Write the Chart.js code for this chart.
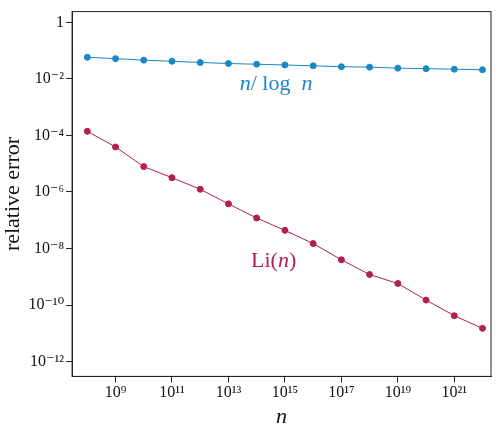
<!DOCTYPE html>
<html>
<head>
<meta charset="utf-8">
<script src="https://cdn.jsdelivr.net/npm/chart.js@4"></script>
<style>
  body { margin: 0; background: #fff; }
  #wrap { width: 500px; height: 430px; }
</style>
</head>
<body>
<div id="wrap"><canvas id="chart"></canvas></div>
<script>
// exponents k for n = 10^k
const exponents = [8, 9, 10, 11, 12, 13, 14, 15, 16, 17, 18, 19, 20, 21, 22];
const nLogNError = [0.058, 0.052, 0.046, 0.042, 0.038, 0.035, 0.033, 0.031, 0.029, 0.027, 0.026, 0.024, 0.023, 0.022, 0.021];
const liError = [1.4e-4, 3.9e-5, 7.9e-6, 3.2e-6, 1.25e-6, 3.8e-7, 1.2e-7, 4.4e-8, 1.5e-8, 4e-9, 1.2e-9, 5.8e-10, 1.5e-10, 4.2e-11, 1.5e-11];
const xTickExps = [9, 11, 13, 15, 17, 19, 21];
const yTickExps = [0, -2, -4, -6, -8, -10, -12];

const SUP = { '0': '⁰', '1': '¹', '2': '²', '3': '³', '4': '⁴', '5': '⁵', '6': '⁶', '7': '⁷', '8': '⁸', '9': '⁹', '-': '⁻' };
function pow10Label(k) {
  if (k === 0) return '1';
  return '10' + String(k).split('').map(c => SUP[c]).join('');
}

const BLUE = '#1a87c6';
const RED = '#b3204d';
const FONT = "'Liberation Serif', 'DejaVu Serif', serif";

const labelsPlugin = {
  id: 'seriesLabels',
  afterDatasetsDraw(chart) {
    const { ctx, scales } = chart;
    ctx.save();
    ctx.textBaseline = 'middle';
    ctx.textAlign = 'left';
    // n/ log n
    let x = scales.x.getPixelForValue(Math.pow(10, 13.4));
    let y = scales.y.getPixelForValue(Math.pow(10, -2.2));
    ctx.fillStyle = BLUE;
    ctx.font = 'italic 22px ' + FONT;
    ctx.fillText('n', x, y);
    x += ctx.measureText('n').width;
    ctx.font = '22px ' + FONT;
    ctx.fillText('/ log  ', x, y);
    x += ctx.measureText('/ log  ').width;
    ctx.font = 'italic 22px ' + FONT;
    ctx.fillText('n', x, y);
    // Li(n)
    x = scales.x.getPixelForValue(Math.pow(10, 13.8));
    y = scales.y.getPixelForValue(Math.pow(10, -8.45));
    ctx.fillStyle = RED;
    ctx.font = '22px ' + FONT;
    ctx.fillText('Li(', x, y);
    x += ctx.measureText('Li(').width;
    ctx.font = 'italic 22px ' + FONT;
    ctx.fillText('n', x, y);
    x += ctx.measureText('n').width;
    ctx.font = '22px ' + FONT;
    ctx.fillText(')', x, y);
    ctx.restore();
  }
};

new Chart(document.getElementById('chart'), {
  type: 'line',
  data: {
    datasets: [
      {
        label: 'n/log n',
        data: exponents.map((k, i) => ({ x: Math.pow(10, k), y: nLogNError[i] })),
        borderColor: BLUE, backgroundColor: BLUE, borderWidth: 1,
        pointRadius: 3, pointHoverRadius: 3
      },
      {
        label: 'Li(n)',
        data: exponents.map((k, i) => ({ x: Math.pow(10, k), y: liError[i] })),
        borderColor: RED, backgroundColor: RED, borderWidth: 1,
        pointRadius: 3, pointHoverRadius: 3
      }
    ]
  },
  options: {
    responsive: true,
    maintainAspectRatio: false,
    animation: false,
    layout: { padding: { top: 8, right: 9, left: 0, bottom: 0 } },
    plugins: { legend: { display: false }, tooltip: { enabled: false } },
    scales: {
      x: {
        type: 'logarithmic',
        min: Math.pow(10, 7.46), max: Math.pow(10, 22.3),
        afterBuildTicks: s => { s.ticks = xTickExps.map(k => ({ value: Math.pow(10, k) })); },
        ticks: {
          callback: v => pow10Label(Math.round(Math.log10(v))),
          color: '#111', font: { family: FONT, size: 16 }, maxRotation: 0, autoSkip: false, padding: 1
        },
        grid: { display: true, drawOnChartArea: false, drawTicks: true, tickLength: 6, color: '#222' },
        border: { color: '#222' },
        title: { display: true, text: 'n', color: '#111', font: { family: FONT, size: 22, style: 'italic' }, padding: { top: 0, bottom: 0 } }
      },
      y: {
        type: 'logarithmic',
        min: Math.pow(10, -12.47), max: Math.pow(10, 0.38),
        afterBuildTicks: s => { s.ticks = yTickExps.map(k => ({ value: Math.pow(10, k) })); },
        ticks: {
          callback: v => pow10Label(Math.round(Math.log10(v))),
          color: '#111', font: { family: FONT, size: 16 }, autoSkip: false, padding: 2
        },
        grid: { display: true, drawOnChartArea: false, drawTicks: true, tickLength: 6, color: '#222' },
        border: { color: '#222' },
        title: { display: true, text: 'relative error', color: '#111', font: { family: FONT, size: 22 }, padding: { top: 0, bottom: 0 } }
      }
    }
  },
  plugins: [labelsPlugin, {
    id: 'frame',
    afterDraw(chart) {
      const { ctx, chartArea: a } = chart;
      ctx.save();
      ctx.strokeStyle = '#222';
      ctx.lineWidth = 1;
      ctx.strokeRect(a.left, a.top, a.right - a.left, a.bottom - a.top);
      ctx.restore();
    }
  }]
});
</script>
</body>
</html>
